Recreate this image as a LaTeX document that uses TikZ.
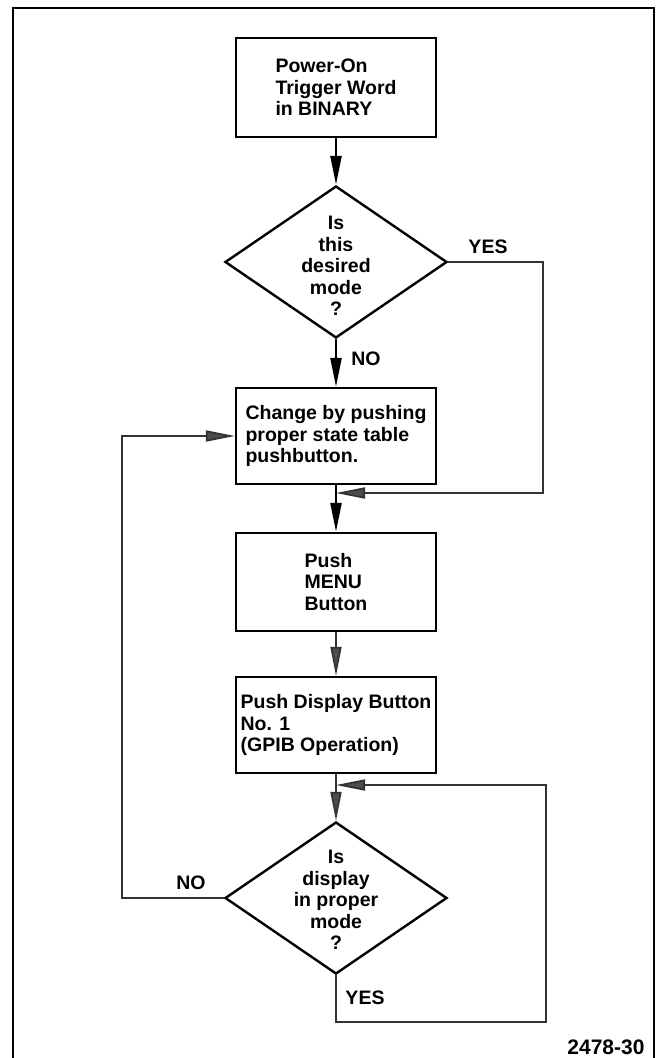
\documentclass[tikz,border=0pt]{standalone}
\usepackage{fontspec}
\setmainfont{Liberation Sans}
\usetikzlibrary{arrows.meta,shapes.geometric}
\begin{document}
\begin{tikzpicture}[x=1pt,y=-1pt,
  txt/.style={font=\bfseries\fontsize{19.5}{21.5}\selectfont},
  procbox/.style={txt,draw,line width=2.4pt,minimum width=200pt,inner sep=0pt,align=left},
  decision/.style={draw,diamond,line width=2.4pt,minimum width=222pt,minimum height=152pt,inner sep=0pt},
  dtext/.style={txt,align=center,inner sep=0pt},
  lbl/.style={txt,inner sep=0pt},
  flow/.style={line width=2.4pt,-{Triangle[length=29pt,width=11pt]}},
  flowg/.style={line width=1.8pt,draw=black!80,-{Triangle[length=29pt,width=11pt,fill=black!70]}},
]
\useasboundingbox (0,0) rectangle (663,1058);
% outer frame
\draw[line width=2pt] (13,1058) -- (13,8) -- (654,8) -- (654,1058);

% nodes
\node[procbox,minimum height=99pt] (b1) at (336,87.5) {Power-On\\Trigger Word\\in BINARY};
\node[decision] (d1) at (336,262) {};
\node[dtext] (t1) at (336,266) {Is\\this\\desired\\mode\\?};
\node[procbox,minimum height=96pt] (b2) at (336,436) {Change by pushing\\proper state table\\pushbutton.};
\node[procbox,minimum height=98pt] (b3) at (336,582) {Push\\MENU\\Button};
\node[procbox,minimum height=96pt] (b4) at (336,725) {Push Display Button\\No. 1\\(GPIB Operation)};
\node[decision] (d2) at (336,898) {};
\node[dtext] (t2) at (336,900) {Is\\display\\in proper\\mode\\?};

% labels
\node[lbl] (yes1) at (488,247) {YES};
\node[lbl] (no1) at (366,359) {NO};
\node[lbl] (no2) at (191,883) {NO};
\node[lbl] (yes2) at (365,998) {YES};
\node[lbl,font=\bfseries\fontsize{21}{23}\selectfont] (fig) at (606,1047) {2478-30};

% junction points
\coordinate (j1) at (336,493);
\coordinate (j2) at (336,785);

% connectors
\draw[flow] (b1) -- (d1);
\draw[flow] (d1) -- (b2);
\draw[flowg] (d1.east) -- (543,262) -- (543,493) -- (j1);
\draw[flow] (b2) -- (b3);
\draw[flowg] (b3) -- (b4);
\draw[flowg] (b4) -- (d2);
\draw[flowg] (d2.west) -- (122,898) -- (122,436) -- (b2.west);
\draw[flowg] (d2.south) -- (336,1022) -- (546,1022) -- (546,785) -- (j2);
\end{tikzpicture}
\end{document}
